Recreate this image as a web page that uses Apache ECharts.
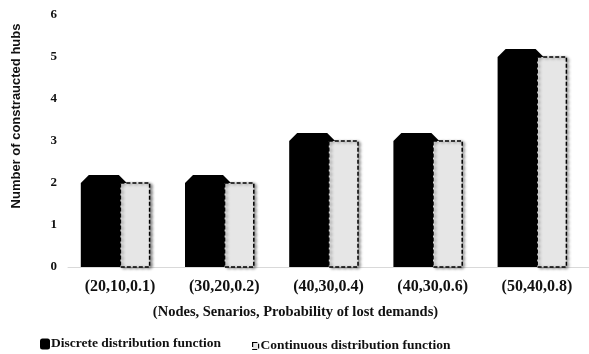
<!DOCTYPE html>
<html>
<head>
<meta charset="utf-8">
<script src="https://cdn.jsdelivr.net/npm/echarts@6/dist/echarts.min.js"></script>
<style>
  html, body { margin: 0; padding: 0; background: #fff; }
  #main { width: 589px; height: 354px; }
</style>
</head>
<body>
<div id="main"></div>
<script>
// data
var categories = ['(20,10,0.1)', '(30,20,0.2)', '(40,30,0.4)', '(40,30,0.6)', '(50,40,0.8)'];
var discrete = [2, 2, 3, 3, 5];
var continuous = [2, 2, 3, 3, 5];
var yTicks = [0, 1, 2, 3, 4, 5, 6];

var serif = '"Liberation Serif", "DejaVu Serif", serif';
var myChart = echarts.init(document.getElementById('main'));

// black bar with bevelled top corners
function renderDiscrete(params, api) {
	var p = api.coord([api.value(0), api.value(1)]);
	var b = api.coord([api.value(0), 0]);
	var x0 = p[0] - 39.3, y = p[1], bev = 8;
	return {
		type: 'polygon',
		shape: { points: [
			[x0, b[1]], [x0, y], [x0 + bev, y - bev], [x0 + 38, y - bev],
			[x0 + 38 + bev, y], [x0 + 38 + bev, b[1]]
		] },
		style: { fill: '#000' }
	};
}

// light grey bar with dashed outline
function renderContinuous(params, api) {
	var p = api.coord([api.value(0), api.value(1)]);
	var b = api.coord([api.value(0), 0]);
	return {
		type: 'rect',
		shape: { x: p[0] + 0.3, y: p[1], width: 29.2, height: b[1] - p[1] },
		style: {
			fill: '#e6e6e6', stroke: '#000', lineWidth: 1.5, lineDash: [4, 2],
			shadowColor: 'rgba(0,0,0,0.45)', shadowBlur: 3, shadowOffsetX: 2, shadowOffsetY: 1
		}
	};
}

var option = {
	animation: false,
	grid: { left: 68, right: 0, top: 15, bottom: 87 },
	legend: [{
		left: 40, top: 337, padding: 0, itemWidth: 10, itemHeight: 11, itemGap: 0,
		icon: 'roundRect',
		textStyle: { fontFamily: serif, fontWeight: 'bold', fontSize: 13.5, color: '#111', padding: [0, 0, 0, -4] },
		data: [{ name: 'Discrete distribution function', itemStyle: { color: '#000' } }]
	}, {
		left: 252, top: 339, padding: 0, itemWidth: 6, itemHeight: 7, itemGap: 0,
		icon: 'rect',
		textStyle: { fontFamily: serif, fontWeight: 'bold', fontSize: 13.5, color: '#111', padding: [0, 0, 0, -3] },
		data: [{ name: 'Continuous distribution function',
			itemStyle: { color: '#e6e6e6', borderColor: '#000', borderWidth: 1.2, borderType: 'dashed' } }]
	}],
	xAxis: {
		type: 'category',
		data: categories,
		axisLine: { lineStyle: { color: '#d9d9d9', width: 1 } },
		axisTick: { show: false },
		axisLabel: { fontFamily: serif, fontWeight: 'bold', fontSize: 16, color: '#111', margin: 12 },
		name: '(Nodes, Senarios, Probability of lost demands)',
		nameLocation: 'middle',
		nameGap: 38,
		nameTextStyle: { fontFamily: serif, fontWeight: 'bold', fontSize: 14.5, color: '#111', padding: [0, 66, 0, 0] }
	},
	yAxis: {
		type: 'value',
		min: yTicks[0],
		max: yTicks[yTicks.length - 1],
		interval: 1,
		axisLine: { show: false },
		axisTick: { show: false },
		splitLine: { show: false },
		axisLabel: { fontFamily: serif, fontWeight: 'bold', fontSize: 13, color: '#111', margin: 11 },
		name: 'Number of constraucted hubs',
		nameLocation: 'middle',
		nameGap: 45,
		nameTextStyle: { fontFamily: '"Liberation Sans", Arial, sans-serif', fontWeight: 'bold', fontSize: 13, color: '#111', padding: [0, 0, 0, 50] }
	},
	series: [{
		name: 'Discrete distribution function',
		type: 'custom',
		renderItem: renderDiscrete,
		itemStyle: { color: '#000' },
		data: discrete.map(function (v, i) { return [i, v]; })
	}, {
		name: 'Continuous distribution function',
		type: 'custom',
		renderItem: renderContinuous,
		itemStyle: { color: '#e6e6e6' },
		data: continuous.map(function (v, i) { return [i, v]; })
	}]
};
myChart.setOption(option);
</script>
</body>
</html>
